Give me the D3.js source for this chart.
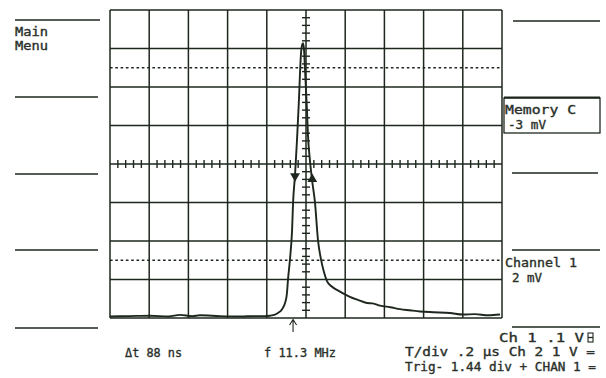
<!DOCTYPE html>
<html>
<head>
<meta charset="utf-8">
<script src="https://cdn.jsdelivr.net/npm/d3@7"></script>
<style>
  html, body { margin: 0; padding: 0; background: #fff; }
  svg { display: block; }
  text { font-family: "DejaVu Sans Mono", "Liberation Mono", monospace; fill: #2a302a; stroke: #2a302a; stroke-width: 0.35; }
</style>
</head>
<body>
<svg id="scope" width="606" height="378"></svg>
<script>
// Captured pulse: time in microseconds, amplitude in volts (0.1 V/div, 0.2 us/div)
const timeUs = [0.000, 0.100, 0.204, 0.300, 0.357, 0.420, 0.459, 0.560, 0.663, 0.740, 0.791, 0.816, 0.842,
  0.857, 0.878, 0.893, 0.903, 0.908, 0.918, 0.929, 0.934, 0.944, 0.954, 0.964, 0.969, 0.974,
  0.980, 0.985, 0.990, 0.995, 1.000, 1.005, 1.010, 1.020, 1.031, 1.046, 1.061, 1.077, 1.092,
  1.107, 1.133, 1.158, 1.189, 1.224, 1.265, 1.311, 1.340, 1.378, 1.430, 1.480, 1.530, 1.582,
  1.650, 1.735, 1.800, 1.862, 1.930, 1.990];
const voltsV = [-0.396, -0.395, -0.394, -0.396, -0.392, -0.395, -0.393, -0.395, -0.396, -0.395, -0.395, -0.394, -0.391,
  -0.387, -0.377, -0.361, -0.335, -0.301, -0.249, -0.171, -0.101, -0.029, 0.062, 0.166, 0.231, 0.283,
  0.309, 0.314, 0.296, 0.244, 0.192, 0.140, 0.075, 0.010, -0.042, -0.101, -0.197, -0.249, -0.281,
  -0.304, -0.319, -0.327, -0.336, -0.345, -0.353, -0.361, -0.362, -0.368, -0.372, -0.377, -0.380, -0.383,
  -0.385, -0.387, -0.391, -0.390, -0.393, -0.391];

// Time markers (start / stop) and trigger reference
const markerTimes = [0.944, 1.032];
const markerVolts = [-0.029, -0.042];
const triggerTime = 0.934;
// Horizontal voltage marker levels (dotted)
const levelVolts = [0.25, -0.25];

// Axis setup
const timeDomain = [0, 2];
const voltDomain = [-0.4, 0.4];
const timeStep = 0.2, voltStep = 0.1;

// Screen text
const menuLabels = ["Main", "Menu"];
const memoryLabels = ["Memory C", "-3 mV"];
const channelLabels = ["Channel 1", "2 mV"];
const readoutLabels = ["\u0394t 88 ns", "f 11.3 MHz"];
const settingLabels = ["Ch 1  .1  V", "T/div .2 \u00b5s Ch 2  1  V =", "Trig- 1.44 div + CHAN 1 ="];

const ink = "#1e271e";
const svg = d3.select("#scope");

const x = d3.scaleLinear().domain(timeDomain).range([110, 502]);
const y = d3.scaleLinear().domain(voltDomain).range([318, 10]);

// Graticule
const g = svg.append("g");
const xt = d3.range(timeDomain[0], timeDomain[1] + 1e-9, timeStep);
const yt = d3.range(voltDomain[0], voltDomain[1] + 1e-9, voltStep);
g.selectAll("line.vx").data(xt).join("line")
  .attr("x1", d => x(d)).attr("x2", d => x(d))
  .attr("y1", y.range()[0]).attr("y2", y.range()[1])
  .attr("stroke", ink).attr("stroke-width", 1.5);
g.selectAll("line.hy").data(yt).join("line")
  .attr("y1", d => y(d)).attr("y2", d => y(d))
  .attr("x1", x.range()[0]).attr("x2", x.range()[1])
  .attr("stroke", ink).attr("stroke-width", 1.5);

// Minor ticks along centre axes
const xc = x(1), yc = y(0);
const minorT = d3.range(0, 2 + 1e-9, 0.04).filter(d => Math.abs(d / timeStep - Math.round(d / timeStep)) > 1e-6);
const minorV = d3.range(-0.4, 0.4 + 1e-9, 0.02).filter(d => Math.abs(d / voltStep - Math.round(d / voltStep)) > 1e-6);
g.selectAll("line.mt").data(minorT).join("line")
  .attr("x1", d => x(d)).attr("x2", d => x(d))
  .attr("y1", yc - 4).attr("y2", yc + 4)
  .attr("stroke", ink).attr("stroke-width", 1.4);
g.selectAll("line.mv").data(minorV).join("line")
  .attr("y1", d => y(d)).attr("y2", d => y(d))
  .attr("x1", xc - 4).attr("x2", xc + 4)
  .attr("stroke", ink).attr("stroke-width", 1.4);

// Dotted voltage markers
g.selectAll("line.lv").data(levelVolts).join("line")
  .attr("y1", d => y(d)).attr("y2", d => y(d))
  .attr("x1", x.range()[0]).attr("x2", x.range()[1])
  .attr("stroke", ink).attr("stroke-width", 1.3).attr("stroke-dasharray", "2.6,2.7");

// Trace
const pts = timeUs.map((t, i) => [t, voltsV[i]]);
svg.append("path").datum(pts)
  .attr("d", d3.line().x(d => x(d[0])).y(d => y(d[1])).curve(d3.curveMonotoneX))
  .attr("fill", "none").attr("stroke", ink).attr("stroke-width", 1.9).attr("stroke-linejoin", "round");

// Start / stop markers
const tri = d3.symbol().type(d3.symbolTriangle).size(42);
svg.append("path").attr("d", tri())
  .attr("transform", `translate(${x(markerTimes[0])},${y(markerVolts[0]) + 1}) rotate(180)`)
  .attr("fill", ink);
svg.append("path").attr("d", tri())
  .attr("transform", `translate(${x(markerTimes[1])},${y(markerVolts[1]) - 1})`)
  .attr("fill", ink);

// Trigger reference arrow below the graticule
const ta = x(triggerTime);
svg.append("path")
  .attr("d", `M${ta},332 L${ta},320 M${ta - 3.5},325 L${ta},319.5 L${ta + 3.5},325`)
  .attr("fill", "none").attr("stroke", ink).attr("stroke-width", 1.1);

// Softkey separators
const sep = [[15, 100, 20], [15, 98, 97], [15, 98, 174], [15, 98, 250], [15, 98, 328],
             [513, 600, 21], [512, 598, 173], [512, 600, 250], [512, 600, 327]];
svg.selectAll("line.sep").data(sep).join("line")
  .attr("x1", d => d[0]).attr("x2", d => d[1]).attr("y1", d => d[2]).attr("y2", d => d[2])
  .attr("stroke", ink).attr("stroke-width", 1.5);

// Memory C box
svg.append("rect").attr("x", 504).attr("y", 98).attr("width", 96).attr("height", 35)
  .attr("fill", "none").attr("stroke", ink).attr("stroke-width", 1.3);
svg.append("line").attr("x1", 504).attr("x2", 600).attr("y1", 97.5).attr("y2", 97.5)
  .attr("stroke", ink).attr("stroke-width", 2.2);

function label(txt, px, py, w, size) {
  svg.append("text").attr("x", px).attr("y", py)
    .attr("font-size", size || 12)
    .attr("textLength", w).attr("lengthAdjust", "spacingAndGlyphs")
    .text(txt);
}
label(menuLabels[0], 15, 36, 33);
label(menuLabels[1], 15, 50, 33);
label(memoryLabels[0], 505, 114, 71);
label(memoryLabels[1], 508, 128.5, 38);
label(channelLabels[0], 505, 267, 72);
label(channelLabels[1], 512, 282, 30);
label(readoutLabels[0], 125, 357, 57);
label(readoutLabels[1], 264, 357, 72);
label(settingLabels[0], 499, 342, 85);
label(settingLabels[1], 405, 356, 190);
label(settingLabels[2], 405, 371, 191);

// Coupling indicator glyph beside Ch 1
svg.append("rect").attr("x", 588).attr("y", 333).attr("width", 5).attr("height", 9)
  .attr("fill", "none").attr("stroke", ink).attr("stroke-width", 1.1);
svg.append("line").attr("x1", 588).attr("x2", 593).attr("y1", 337.5).attr("y2", 337.5)
  .attr("stroke", ink).attr("stroke-width", 1.3);
</script>
</body>
</html>
